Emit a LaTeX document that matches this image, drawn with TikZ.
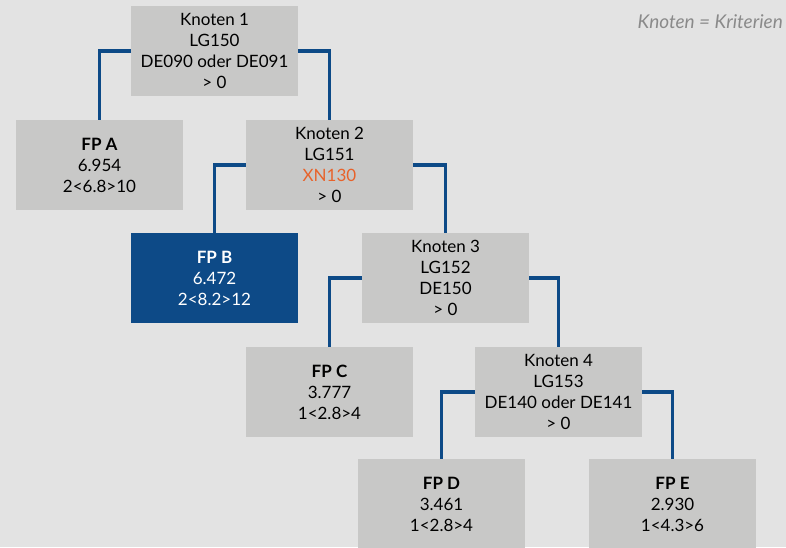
\documentclass[tikz,border=0pt]{standalone}
\usepackage{fontspec}
\setmainfont{Lato}
\definecolor{bg}{HTML}{E3E3E3}
\definecolor{boxgray}{HTML}{C8C8C7}
\definecolor{treeblue}{HTML}{0D4A87}
\definecolor{xnorange}{HTML}{E8622A}
\definecolor{notegray}{HTML}{8A8A8A}
\begin{document}
\begin{tikzpicture}[x=1pt,y=-1pt,
  tbox/.style={rectangle, fill=boxgray, minimum width=167pt, minimum height=90pt,
    inner sep=0pt, align=center, font=\fontsize{17}{21}\selectfont, text=black},
  leafblue/.style={tbox, fill=treeblue, text=white},
  link/.style={draw=treeblue, line width=3.6pt}]
\useasboundingbox (0,0) rectangle (786,547);
\clip (0,0) rectangle (786,547);
\fill[bg] (0,0) rectangle (786,547);

\node[tbox] (k1) at (214.5,51) {Knoten 1\\LG150\\DE090 oder DE091\\> 0};
\node[tbox] (fpa) at (99.5,165) {\textbf{FP A}\\6.954\\2<6.8>10};
\node[tbox] (k2) at (329.5,165) {Knoten 2\\LG151\\\textcolor{xnorange}{XN130}\\> 0};
\node[leafblue] (fpb) at (214.5,278) {\textbf{FP B}\\6.472\\2<8.2>12};
\node[tbox] (k3) at (445.5,278) {Knoten 3\\LG152\\DE150\\> 0};
\node[tbox] (fpc) at (329.5,392) {\textbf{FP C}\\3.777\\1<2.8>4};
\node[tbox] (k4) at (558.5,392) {Knoten 4\\LG153\\DE140 oder DE141\\> 0};
\node[tbox] (fpd) at (441.5,504) {\textbf{FP D}\\3.461\\1<2.8>4};
\node[tbox] (fpe) at (672.5,504) {\textbf{FP E}\\2.930\\1<4.3>6};

\node[anchor=east, inner sep=0pt, font=\fontsize{19}{22}\itshape\selectfont, text=notegray] (note) at (783,22) {Knoten = Kriterien};

\draw[link] (k1.west) -| (fpa.north);
\draw[link] (k1.east) -| (k2.north);
\draw[link] (k2.west) -| (fpb.north);
\draw[link] (k2.east) -| (k3.north);
\draw[link] (k3.west) -| (fpc.north);
\draw[link] (k3.east) -| (k4.north);
\draw[link] (k4.west) -| (fpd.north);
\draw[link] (k4.east) -| (fpe.north);
\end{tikzpicture}
\end{document}
